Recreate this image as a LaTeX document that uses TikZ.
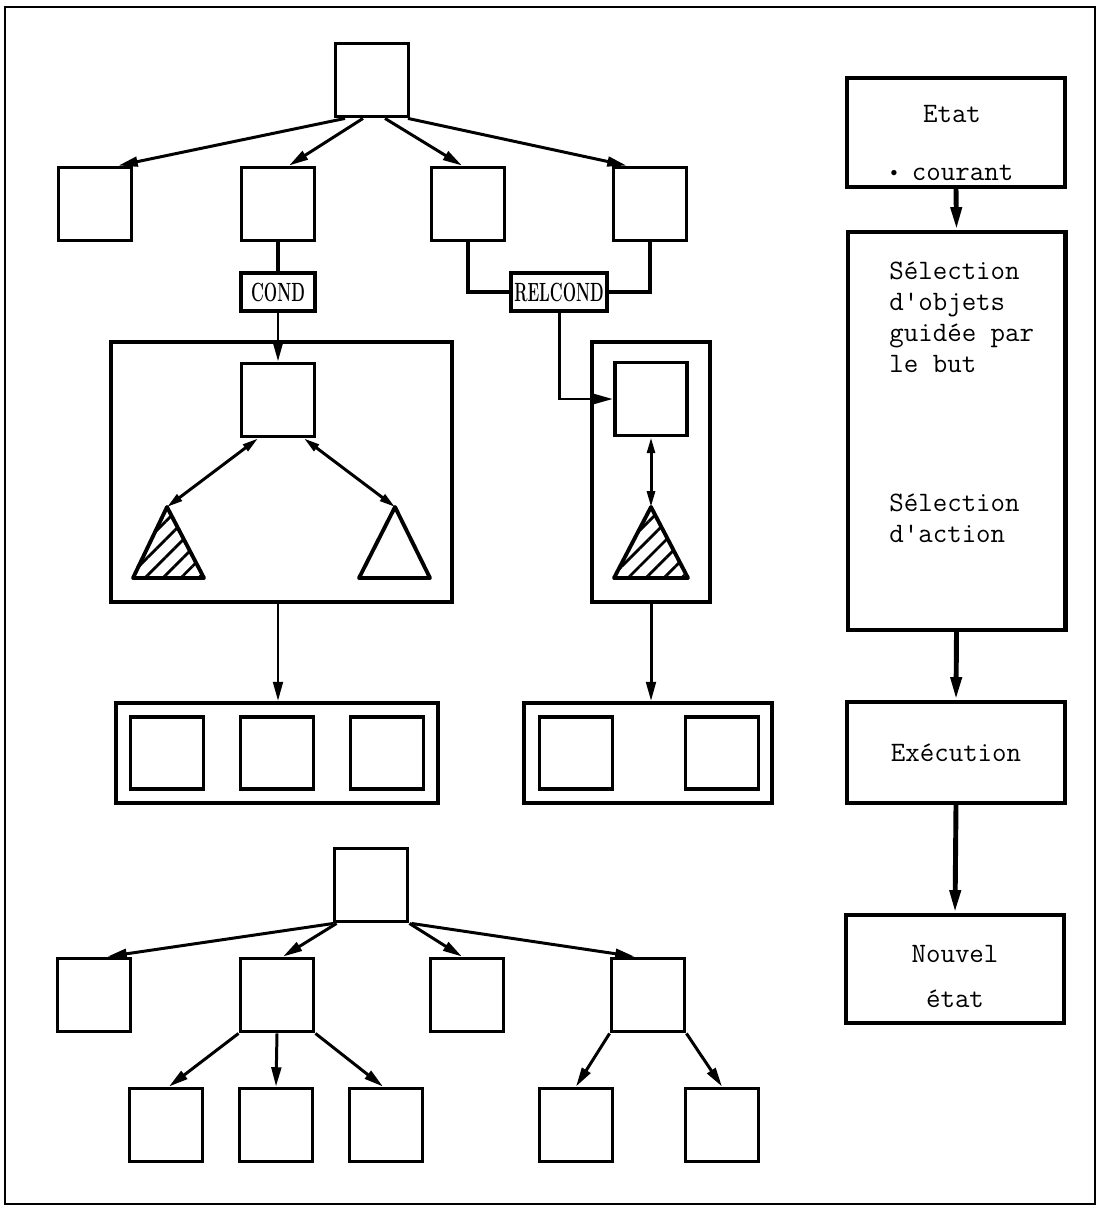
\documentclass[tikz,border=0pt]{standalone}
\usepackage{graphicx}
\usetikzlibrary{arrows.meta, calc, patterns.meta}
\newcommand{\typ}{\ttfamily\fontsize{16}{17.6}\selectfont}
\newcommand{\lab}[1]{\scalebox{0.6}[1]{\rmfamily\bfseries\fontsize{15}{15}\selectfont #1}}

\begin{document}
\begin{tikzpicture}[x=0.02cm, y=-0.02cm,
    sq/.style={draw, line width=2.2pt, minimum width=1.46cm, minimum height=1.46cm, inner sep=0pt},
    frame/.style={draw, line width=2.2pt, inner sep=0pt},
    tag/.style={draw, line width=2.2pt, minimum height=0.76cm, inner sep=0pt},
    stage/.style={draw, line width=2.3pt, minimum width=4.36cm, inner sep=0pt, font=\typ, align=center},
    arr/.style={line width=1.7pt, -{Triangle[length=11pt, width=5.5pt]}},
    dbl/.style={line width=1.7pt, {Triangle[length=9pt, width=4.5pt]}-{Triangle[length=9pt, width=4.5pt]}},
    thk/.style={line width=2.8pt, -{Triangle[length=13pt, width=6pt]}},
    wire/.style={line width=1.9pt},
    hatch/.style={line width=2.2pt, line join=round, pattern={Lines[angle=45, distance=7.2pt, line width=1.6pt]}},
    txt/.style={font=\typ, inner sep=0pt, align=left, anchor=north west},
    words/.style={font=\typ, inner sep=0pt, align=center}
]
\useasboundingbox (0,0) rectangle (1098,1206);
\draw[line width=1.4pt] (5,7) rectangle (1095,1204);

% upper tree
\node[sq] (tR) at (372,80) {};
\node[sq] (tA) at (95,204) {};
\node[sq] (tB) at (278,204) {};
\node[sq] (tC) at (468,204) {};
\node[sq] (tD) at (650,204) {};
\draw[arr] ($(tR.south)+(-27,0)$) -- ($(tA.north east)+(-15,0)$);
\draw[arr] ($(tR.south)+(-9,0)$) -- ($(tB.north)+(11,0)$);
\draw[arr] ($(tR.south)+(13,0)$) -- ($(tC.north)+(-6,0)$);
\draw[arr] ($(tR.south)+(36,0)$) -- ($(tD.north west)+(15,0)$);

\node[tag, minimum width=1.48cm] (cond) at (278,292) {\lab{COND}};
\node[tag, minimum width=1.92cm] (relc) at (559,292) {\lab{RELCOND}};
\draw[wire] (tB.south) -- (cond.north);
\draw[wire] (tC.south) |- (relc.west);
\draw[wire] (tD.south) |- (relc.east);

% left module
\node[frame, minimum width=6.82cm, minimum height=5.2cm] (fL) at (281.5,472) {};
\node[sq] (inL) at (278,400) {};
\draw[arr] (cond.south) -- (inL.north);
\coordinate (aL) at (167,507);
\draw[hatch] (aL) -- ++(37,71) -- ++(-71,0) -- cycle;
\coordinate (aR) at (395,507);
\draw[line width=2.2pt, line join=round] (aR) -- ++(35,71) -- ++(-71,0) -- cycle;
\draw[dbl] ($(inL.south)+(-20,0)$) -- (aL);
\draw[dbl] ($(inL.south)+(26,0)$) -- (aR);

% right module
\node[frame, minimum width=2.36cm, minimum height=5.2cm] (fR) at (651,472) {};
\node[sq, minimum width=1.44cm] (inR) at (651,399) {};
\coordinate (aH) at (651,507);
\draw[hatch] (aH) -- ++(37,71) -- ++(-74,0) -- cycle;
\draw[dbl] (inR.south) -- (aH);
\draw[arr] (relc.south) |- (inR.west);

% results
\node[frame, minimum width=6.44cm, minimum height=2cm] (bL) at (277,753) {};
\foreach \x [count=\i] in {167,277,387}
    \node[sq, minimum height=1.44cm] (bL\i) at (\x,753) {};
\node[frame, minimum width=4.96cm, minimum height=2cm] (bR) at (648,753) {};
\node[sq, minimum height=1.44cm] (bR1) at (576,753) {};
\node[sq, minimum height=1.44cm] (bR2) at (722,753) {};
\draw[arr] (inL |- fL.south) -- (inL |- bL.north);
\draw[arr] (inR |- fR.south) -- (inR |- bR.north);

% lower tree
\node[sq] (uR) at (371,885) {};
\node[sq] (uE) at (94,995) {};
\node[sq] (uF) at (277,995) {};
\node[sq] (uG) at (467,995) {};
\node[sq] (uH) at (648,995) {};
\draw[arr] ($(uR.south west)+(1,0)$) -- ($(uE.north east)+(-25,0)$);
\draw[arr] ($(uR.south west)+(4,0)$) -- ($(uF.north)+(6,0)$);
\draw[arr] (uR.south east) -- ($(uG.north)+(-5,0)$);
\draw[arr] ($(uR.south east)+(2,0)$) -- ($(uH.north west)+(25,0)$);

\node[sq] (uF1) at (166,1125) {};
\node[sq] (uF2) at (276,1125) {};
\node[sq] (uF3) at (386,1125) {};
\node[sq] (uH1) at (576,1125) {};
\node[sq] (uH2) at (722,1125) {};
\draw[arr] (uF.south west) -- ($(uF1.north)+(3,0)$);
\draw[arr] (uF.south) -- (uF2.north);
\draw[arr] (uF.south east) -- ($(uF3.north)+(-3,0)$);
\draw[arr] (uH.south west) -- (uH1.north);
\draw[arr] (uH.south east) -- (uH2.north);

% cycle
\node[stage, minimum height=2.18cm] (etat) at (956,132.5) {};
\node[words] (etatTxt) at (952,143)
    {Etat\\[15pt]\raisebox{2pt}{\scalebox{0.45}{$\bullet$}} courant};
\node[stage, minimum height=7.96cm] (sel) at (956.5,431) {};
\node[txt] (selTop) at (889,262) {Sélection\\d\textquotesingle objets\\guidée par\\le but};
\node[txt] (selBot) at (889,494) {Sélection\\d\textquotesingle action};
\node[stage, minimum height=2.02cm] (exec) at (956,752.5) {Exécution};
\node[stage, minimum height=2.16cm] (nouv) at (955,969) {};
\node[words] (nouvTxt) at (955,976) {Nouvel\\[8pt]état};
\draw[thk] (etat.south) -- (sel.north);
\draw[thk] (sel.south) -- (exec.north);
\draw[thk] (exec.south) -- (nouv.north);

\end{tikzpicture}
\end{document}
